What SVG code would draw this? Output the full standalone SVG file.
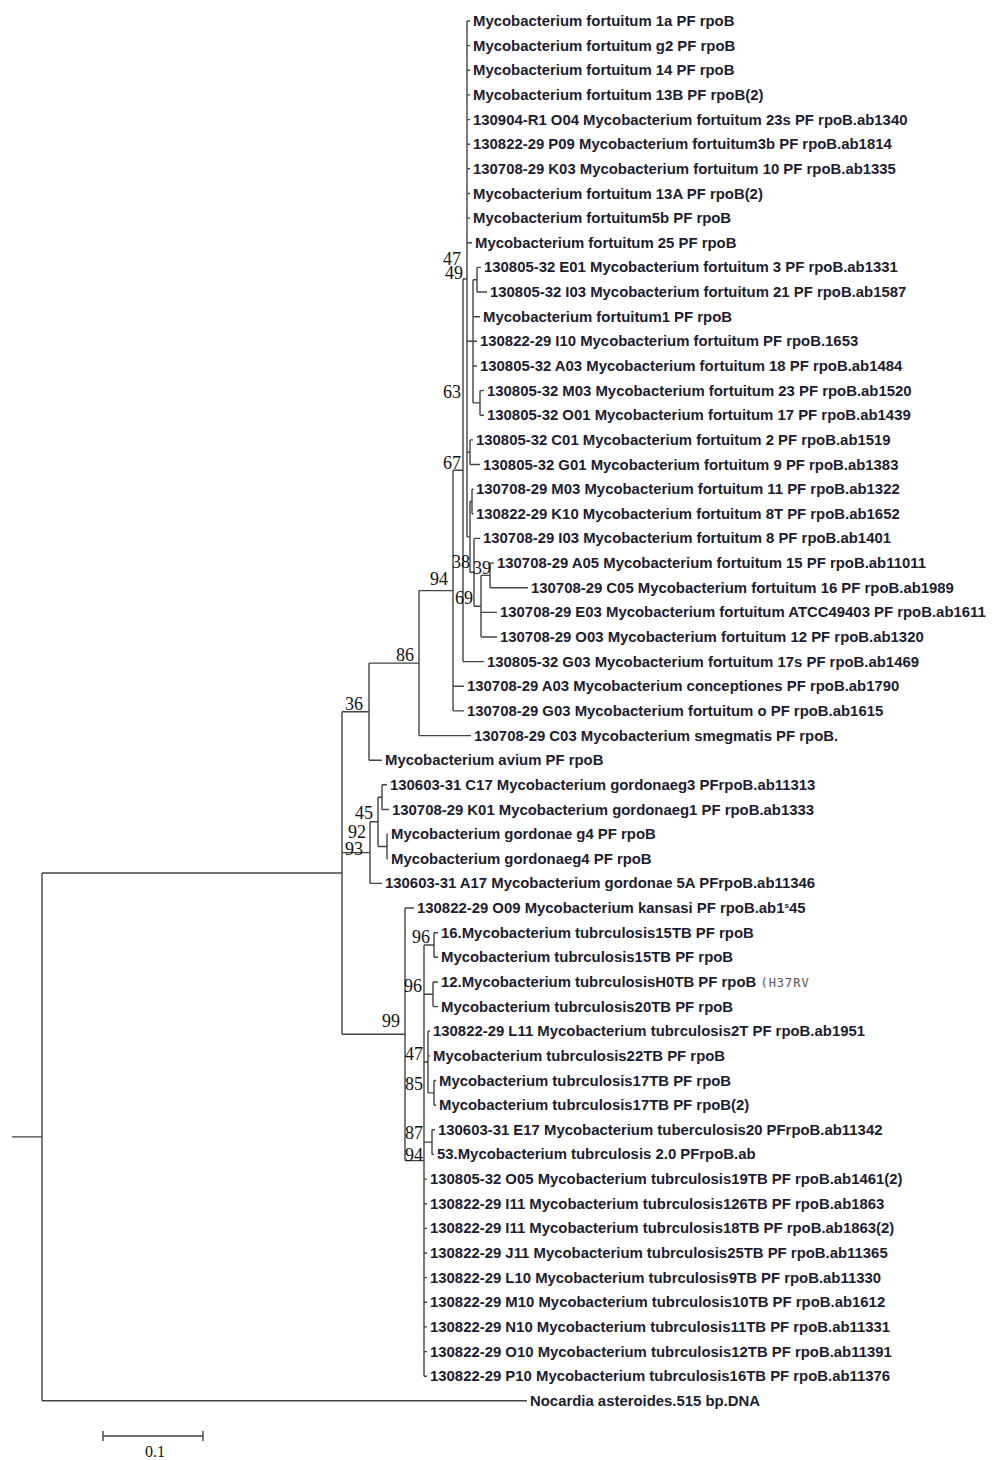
<svg xmlns="http://www.w3.org/2000/svg" width="1000" height="1460" viewBox="0 0 1000 1460">
<style>
.br{fill:none;stroke:#444;stroke-width:1.4}
.lf{font-family:"Liberation Sans",Arial,sans-serif;font-size:14.9px;font-weight:bold;fill:#1c1c30}
.bs{font-family:"Liberation Serif","Times New Roman",serif;font-size:18px;fill:#111}
.sc{font-family:"Liberation Serif","Times New Roman",serif;font-size:16px;fill:#111}
.rv{font-family:"DejaVu Sans Mono",monospace;font-size:12px;font-weight:normal;fill:#555;letter-spacing:1px}
</style>
<rect width="1000" height="1460" fill="#fff"/>
<g id="connectors" class="br">
<path d="M467,21V536.9M467,21H470M467,45.6H470M467,70.3H470M467,94.9H470M467,119.6H470M467,144.2H470M467,168.8H470M467,193.5H470M467,218.1H470M467,242.8H472M467,341.3H473M467,452.2H470M467,536.9H470"/>
<path d="M473,279.7V402.9M473,279.7H477M473,316.7H480M473,341.3H477M473,366H477M473,402.9H480"/>
<path d="M477,267.4V292M477,267.4H481M477,292H487"/>
<path d="M480,390.6V415.2M480,390.6H484M480,415.2H484"/>
<path d="M470,439.9V464.5M470,439.9H473M470,464.5H480"/>
<path d="M470,501.5V572.3M470,501.5H472M470,572.3H474"/>
<path d="M472,489.2V513.8M472,489.2H473.5M472,513.8H473.5"/>
<path d="M474,538.4V606.2M474,538.4H480M474,606.2H481"/>
<path d="M481,575.4V637M481,575.4H490M481,612.4H497M481,637H497"/>
<path d="M490,563.1V587.7M490,563.1H494M490,587.7H528"/>
<path d="M463,279V661.6M463,279H467M463,661.6H484"/>
<path d="M453,470.3V710.9M453,470.3H463M453,686.3H464M453,710.9H464"/>
<path d="M419,590.6V735.6M419,590.6H453M419,735.6H471"/>
<path d="M369,663.1V760.2M369,663.1H419M369,760.2H382"/>
<path d="M382,784.8V809.5M382,784.8H387M382,809.5H389"/>
<path d="M387,834.1V858.8M387,834.1H388M387,858.8H388"/>
<path d="M378,797.2V846.5M378,797.2H382M378,846.5H387"/>
<path d="M370,821.8V883.4M370,821.8H378M370,883.4H382"/>
<path d="M434,932.7V957.3M434,932.7H438M434,957.3H438"/>
<path d="M433,982V1006.6M433,982H438M433,1006.6H438"/>
<path d="M434,1080.5V1105.2M434,1080.5H436M434,1105.2H436"/>
<path d="M428,1031.2V1092.9M428,1031.2H430M428,1055.9H430M428,1092.9H434"/>
<path d="M432,1129.8V1154.4M432,1129.8H435M432,1154.4H434"/>
<path d="M424,945V1376.2M424,945H434M424,994.3H433M424,1062H428M424,1142.1H432M424,1179.1H427M424,1203.7H427M424,1228.4H427M424,1253H427M424,1277.6H427M424,1302.3H427M424,1326.9H427M424,1351.6H427M424,1376.2H427"/>
<path d="M405,908V1160.6M405,908H414M405,1160.6H424"/>
<path d="M342,711.7V1034.3M342,711.7H369M342,852.6H370M342,1034.3H405"/>
<path d="M42,873V1400.8M42,873H342M42,1400.8H527M12,1136.9H42"/>
</g>
<g id="bootstrap">
<g id="n47a"><text class="bs" x="443" y="265">47</text></g>
<g id="n49"><text class="bs" x="445" y="279">49</text></g>
<g id="n63"><text class="bs" x="443" y="398">63</text></g>
<g id="n67"><text class="bs" x="443" y="469">67</text></g>
<g id="n94a"><text class="bs" x="430" y="585">94</text></g>
<g id="n38"><text class="bs" x="452" y="568">38</text></g>
<g id="n39"><text class="bs" x="473" y="574">39</text></g>
<g id="n69"><text class="bs" x="455" y="604">69</text></g>
<g id="n86"><text class="bs" x="396" y="661">86</text></g>
<g id="n36"><text class="bs" x="345" y="710">36</text></g>
<g id="n45"><text class="bs" x="355" y="819">45</text></g>
<g id="n92"><text class="bs" x="348" y="838">92</text></g>
<g id="n93"><text class="bs" x="345" y="855">93</text></g>
<g id="n96a"><text class="bs" x="412" y="943">96</text></g>
<g id="n96b"><text class="bs" x="404" y="992">96</text></g>
<g id="n99"><text class="bs" x="382" y="1027">99</text></g>
<g id="n47b"><text class="bs" x="405" y="1060">47</text></g>
<g id="n85"><text class="bs" x="405" y="1090">85</text></g>
<g id="n87"><text class="bs" x="405" y="1139">87</text></g>
<g id="n94b"><text class="bs" x="405" y="1161">94</text></g>
</g>
<g id="leaves" class="lf">
<g id="l1"><text x="473" y="26">Mycobacterium fortuitum 1a PF rpoB</text></g>
<g id="l2"><text x="473" y="50.6">Mycobacterium fortuitum g2 PF rpoB</text></g>
<g id="l3"><text x="473" y="75.3">Mycobacterium fortuitum 14 PF rpoB</text></g>
<g id="l4"><text x="473" y="99.9">Mycobacterium fortuitum 13B PF rpoB(2)</text></g>
<g id="l5"><text x="473" y="124.6">130904-R1 O04 Mycobacterium fortuitum 23s PF rpoB.ab1340</text></g>
<g id="l6"><text x="473" y="149.2">130822-29 P09 Mycobacterium fortuitum3b PF rpoB.ab1814</text></g>
<g id="l7"><text x="473" y="173.8">130708-29 K03 Mycobacterium fortuitum 10 PF rpoB.ab1335</text></g>
<g id="l8"><text x="473" y="198.5">Mycobacterium fortuitum 13A PF rpoB(2)</text></g>
<g id="l9"><text x="473" y="223.1">Mycobacterium fortuitum5b PF rpoB</text></g>
<g id="l10"><text x="475" y="247.8">Mycobacterium fortuitum 25 PF rpoB</text></g>
<g id="l11"><text x="484" y="272.4">130805-32 E01 Mycobacterium fortuitum 3 PF rpoB.ab1331</text></g>
<g id="l12"><text x="490" y="297">130805-32 I03 Mycobacterium fortuitum 21 PF rpoB.ab1587</text></g>
<g id="l13"><text x="483" y="321.7">Mycobacterium fortuitum1 PF rpoB</text></g>
<g id="l14"><text x="480" y="346.3">130822-29 I10 Mycobacterium fortuitum PF rpoB.1653</text></g>
<g id="l15"><text x="480" y="371">130805-32 A03 Mycobacterium fortuitum 18 PF rpoB.ab1484</text></g>
<g id="l16"><text x="487" y="395.6">130805-32 M03 Mycobacterium fortuitum 23 PF rpoB.ab1520</text></g>
<g id="l17"><text x="487" y="420.2">130805-32 O01 Mycobacterium fortuitum 17 PF rpoB.ab1439</text></g>
<g id="l18"><text x="476" y="444.9">130805-32 C01 Mycobacterium fortuitum 2 PF rpoB.ab1519</text></g>
<g id="l19"><text x="483" y="469.5">130805-32 G01 Mycobacterium fortuitum 9 PF rpoB.ab1383</text></g>
<g id="l20"><text x="476" y="494.2">130708-29 M03 Mycobacterium fortuitum 11 PF rpoB.ab1322</text></g>
<g id="l21"><text x="476" y="518.8">130822-29 K10 Mycobacterium fortuitum 8T PF rpoB.ab1652</text></g>
<g id="l22"><text x="483" y="543.4">130708-29 I03 Mycobacterium fortuitum 8 PF rpoB.ab1401</text></g>
<g id="l23"><text x="497" y="568.1">130708-29 A05 Mycobacterium fortuitum 15 PF rpoB.ab11011</text></g>
<g id="l24"><text x="531" y="592.7">130708-29 C05 Mycobacterium fortuitum 16 PF rpoB.ab1989</text></g>
<g id="l25"><text x="500" y="617.4">130708-29 E03 Mycobacterium fortuitum ATCC49403 PF rpoB.ab1611</text></g>
<g id="l26"><text x="500" y="642">130708-29 O03 Mycobacterium fortuitum 12 PF rpoB.ab1320</text></g>
<g id="l27"><text x="487" y="666.6">130805-32 G03 Mycobacterium fortuitum 17s PF rpoB.ab1469</text></g>
<g id="l28"><text x="467" y="691.3">130708-29 A03 Mycobacterium conceptiones PF rpoB.ab1790</text></g>
<g id="l29"><text x="467" y="715.9">130708-29 G03 Mycobacterium fortuitum o PF rpoB.ab1615</text></g>
<g id="l30"><text x="474" y="740.6">130708-29 C03 Mycobacterium smegmatis PF rpoB.</text></g>
<g id="l31"><text x="385" y="765.2">Mycobacterium avium PF rpoB</text></g>
<g id="l32"><text x="390" y="789.8">130603-31 C17 Mycobacterium gordonaeg3 PFrpoB.ab11313</text></g>
<g id="l33"><text x="392" y="814.5">130708-29 K01 Mycobacterium gordonaeg1 PF rpoB.ab1333</text></g>
<g id="l34"><text x="391" y="839.1">Mycobacterium gordonae g4 PF rpoB</text></g>
<g id="l35"><text x="391" y="863.8">Mycobacterium gordonaeg4 PF rpoB</text></g>
<g id="l36"><text x="385" y="888.4">130603-31 A17 Mycobacterium gordonae 5A PFrpoB.ab11346</text></g>
<g id="l37"><text x="417" y="913">130822-29 O09 Mycobacterium kansasi PF rpoB.ab1<tspan font-size="8" dy="-5">s</tspan><tspan dy="5">45</tspan></text></g>
<g id="l38"><text x="441" y="937.7">16.Mycobacterium tubrculosis15TB PF rpoB</text></g>
<g id="l39"><text x="441" y="962.3">Mycobacterium tubrculosis15TB PF rpoB</text></g>
<g id="l40"><text x="441" y="987">12.Mycobacterium tubrculosis<tspan font-weight="900">H</tspan>0TB PF rpoB <tspan class="rv">(H37RV</tspan></text></g>
<g id="l41"><text x="441" y="1011.6">Mycobacterium tubrculosis20TB PF rpoB</text></g>
<g id="l42"><text x="433" y="1036.2">130822-29 L11 Mycobacterium tubrculosis2T PF rpoB.ab1951</text></g>
<g id="l43"><text x="433" y="1060.9">Mycobacterium tubrculosis22TB PF rpoB</text></g>
<g id="l44"><text x="439" y="1085.5">Mycobacterium tubrculosis17TB PF rpoB</text></g>
<g id="l45"><text x="439" y="1110.2">Mycobacterium tubrculosis17TB PF rpoB(2)</text></g>
<g id="l46"><text x="438" y="1134.8">130603-31 E17 Mycobacterium tuberculosis20 PFrpoB.ab11342</text></g>
<g id="l47"><text x="437" y="1159.4">53.Mycobacterium tubrculosis 2.0 PFrpoB.ab</text></g>
<g id="l48"><text x="430" y="1184.1">130805-32 O05 Mycobacterium tubrculosis19TB PF rpoB.ab1461(2)</text></g>
<g id="l49"><text x="430" y="1208.7">130822-29 I11 Mycobacterium tubrculosis126TB PF rpoB.ab1863</text></g>
<g id="l50"><text x="430" y="1233.4">130822-29 I11 Mycobacterium tubrculosis18TB PF rpoB.ab1863(2)</text></g>
<g id="l51"><text x="430" y="1258">130822-29 J11 Mycobacterium tubrculosis25TB PF rpoB.ab11365</text></g>
<g id="l52"><text x="430" y="1282.6">130822-29 L10 Mycobacterium tubrculosis9TB PF rpoB.ab11330</text></g>
<g id="l53"><text x="430" y="1307.3">130822-29 M10 Mycobacterium tubrculosis10TB PF rpoB.ab1612</text></g>
<g id="l54"><text x="430" y="1331.9">130822-29 N10 Mycobacterium tubrculosis11TB PF rpoB.ab11331</text></g>
<g id="l55"><text x="430" y="1356.6">130822-29 O10 Mycobacterium tubrculosis12TB PF rpoB.ab11391</text></g>
<g id="l56"><text x="430" y="1381.2">130822-29 P10 Mycobacterium tubrculosis16TB PF rpoB.ab11376</text></g>
<g id="l57"><text x="530" y="1405.8">Nocardia asteroides.515 bp.DNA</text></g>
</g>
<g id="scalebar">
<path class="br" d="M103,1436H203M103,1431V1441M203,1431V1441"/>
<text class="sc" x="145" y="1457">0.1</text>
</g>
</svg>
